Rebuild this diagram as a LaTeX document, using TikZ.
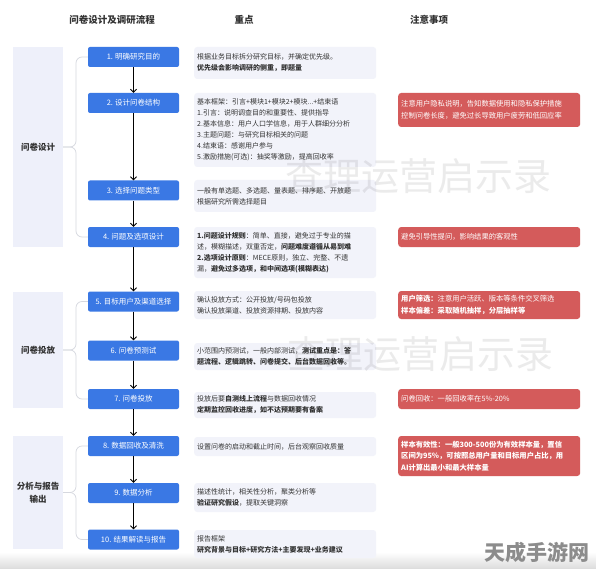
\documentclass[tikz,border=0pt]{standalone}
\usepackage{fontspec}
\setmainfont{Noto Sans CJK SC}
\usetikzlibrary{arrows.meta,calc}
\definecolor{stepblue}{HTML}{3A78E4}
\definecolor{notered}{HTML}{D45B5B}
\definecolor{midfill}{HTML}{F2F3FA}
\definecolor{phasefill}{HTML}{EEF0FA}
\definecolor{bracegray}{HTML}{D6D8DF}
\definecolor{txt}{HTML}{333333}
\tikzset{
  stepbox/.style={fill=stepblue,rounded corners=2pt,minimum width=91pt,minimum height=20pt,inner sep=0pt,text=white,font=\fontsize{7.5}{9}\selectfont},
  phasebox/.style={fill=phasefill,minimum width=50pt,inner sep=0pt,align=center,text=txt,font=\fontsize{8.5}{13}\selectfont\bfseries},
  midbox/.style={fill=midfill,rounded corners=3pt,anchor=west,text width=176pt,inner xsep=3pt,inner ysep=0pt,align=left,text=txt,font=\fontsize{7}{11}\selectfont},
  redbox/.style={fill=notered,rounded corners=3pt,anchor=west,text width=176pt,inner xsep=3pt,inner ysep=0pt,align=left,text=white,font=\fontsize{7.3}{11.5}\selectfont},
  header/.style={text=txt,font=\fontsize{9.5}{11}\selectfont\bfseries},
  flow/.style={draw=black,line width=0.8pt,-{Straight Barb[length=3pt,width=6pt]}},
  brace/.style={draw=bracegray,line width=0.7pt,rounded corners=6pt},
  wmark/.style={text=black,opacity=0.08,font=\fontsize{38}{40}\selectfont}
}
\begin{document}
\begin{tikzpicture}[x=1pt,y=-1pt]
\useasboundingbox (0,0) rectangle (596,569);
\fill[white] (0,0) rectangle (596,569);
\shade[top color=white,bottom color=black!14] (0,552) rectangle (596,569);

% headers
\node[header] (h1) at (112,20) {问卷设计及调研流程};
\node[header] (h2) at (244,20) {重点};
\node[header] (h3) at (429,20) {注意事项};

% phase boxes
\node[phasebox,minimum height=200pt] (p1) at (38,147) {问卷设计};
\node[phasebox,minimum height=116pt] (p2) at (38,350) {问卷投放};
\node[phasebox,minimum height=113pt] (p3) at (38,492.5) {分析与报告\\输出};

% steps
\node[stepbox] (s1) at (133.5,57) {1. 明确研究目的};
\node[stepbox] (s2) at (133.5,103) {2. 设计问卷结构};
\node[stepbox] (s3) at (133.5,190.5) {3. 选择问题类型};
\node[stepbox] (s4) at (133.5,237) {4. 问题及选项设计};
\node[stepbox] (s5) at (133.5,301.5) {5. 目标用户及渠道选择};
\node[stepbox] (s6) at (133.5,350.5) {6. 问卷预测试};
\node[stepbox] (s7) at (133.5,399) {7. 问卷投放};
\node[stepbox] (s8) at (133.5,446) {8. 数据回收及清洗};
\node[stepbox] (s9) at (133.5,493) {9. 数据分析};
\node[stepbox] (s10) at (133.5,539.5) {10. 结果解读与报告};

% arrows
\foreach \a/\b in {s1/s2,s2/s3,s3/s4,s4/s5,s5/s6,s6/s7,s7/s8,s8/s9,s9/s10}
  \draw[flow] (\a.south) -- (\b.north);

% braces
\coordinate (b1) at (76,147);
\coordinate (b2) at (76,350);
\coordinate (b3) at (76,492.5);
\draw[brace] (s1.west) -| (b1) -- (p1.east);
\draw[brace] (s4.west) -| (b1) -- (p1.east);
\draw[brace] (s5.west) -| (b2) -- (p2.east);
\draw[brace] (s7.west) -| (b2) -- (p2.east);
\draw[brace] (s8.west) -| (b3) -- (p3.east);
\draw[brace] (s10.west) -| (b3) -- (p3.east);

% key points
\node[midbox,minimum height=32pt] (m1) at (194,63) {根据业务目标拆分研究目标，并确定优先级。\\\textbf{优先级会影响调研的侧重，即题量}};
\node[midbox,minimum height=74pt] (m2) at (194,130) {基本框架：引言+模块1+模块2+模块...+结束语\\1.引言：说明调查目的和重要性、提供指导\\2.基本信息：用户人口学信息，用于人群细分分析\\3.主题问题：与研究目标相关的问题\\4.结束语：感谢用户参与\\5.激励措施(可选)：抽奖等激励，提高回收率};
\node[midbox,minimum height=32pt] (m3) at (194,196) {一般有单选题、多选题、量表题、排序题、开放题\\根据研究所需选择题目};
\node[midbox,minimum height=51pt] (m4) at (194,252.5) {\textbf{1.问题设计规则}：简单、直接，避免过于专业的描\\述，模糊描述，双重否定，\textbf{问题难度遵循从易到难}\\\textbf{2.选项设计原则}：MECE原则，独立、完整、不遗\\漏，\textbf{避免过多选项，和中间选项(模糊表达)}};
\node[midbox,minimum height=28pt] (m5) at (194,305) {确认投放方式：公开投放/号码包投放\\确认投放渠道、投放资源排期、投放内容};
\node[midbox,minimum height=27pt] (m6) at (194,356.5) {小范围内预测试，一般内部测试，\textbf{测试重点是：答}\\\textbf{题流程、逻辑跳转、问卷提交、后台数据回收等。}};
\node[midbox,minimum height=26pt] (m7) at (194,405) {投放后要\textbf{自测线上流程}与数据回收情况\\\textbf{定期监控回收进度，如不达预期要有备案}};
\node[midbox,minimum height=19pt] (m8) at (194,446.5) {设置问卷的启动和截止时间，后台观察回收质量};
\node[midbox,minimum height=29pt] (m9) at (194,497.5) {描述性统计，相关性分析，聚类分析等\\\textbf{验证研究假设}，提取关键洞察};
\node[midbox,minimum height=28pt] (m10) at (194,544) {报告框架\\\textbf{研究背景与目标+研究方法+主要发现+业务建议}};

% notes
\node[redbox,minimum height=34pt] (r1) at (398,110) {注意用户隐私说明，告知数据使用和隐私保护措施\\控制问卷长度，避免过长导致用户疲劳和低回应率};
\node[redbox,minimum height=20pt] (r2) at (398,237) {避免引导性提问，影响结果的客观性};
\node[redbox,minimum height=28pt] (r3) at (398,305) {\textbf{用户筛选：}注意用户活跃、版本等条件交叉筛选\\\textbf{样本偏差：采取随机抽样，分层抽样等}};
\node[redbox,minimum height=20pt] (r4) at (398,399) {问卷回收：一般回收率在5\%-20\%};
\node[redbox,minimum height=40pt] (r5) at (398,456) {\textbf{样本有效性：一般300-500份为有效样本量，置信}\\\textbf{区间为95\%，可按照总用户量和目标用户占比，用}\\\textbf{AI计算出最小和最大样本量}};

% watermarks
\node[wmark] (w1) at (418,176) {查理运营启示录};
\node[wmark] (w2) at (420,354) {查理运营启示录};
\node[text=black!45,font=\fontsize{21}{22}\selectfont\bfseries] (w3) at (537,552) {天成手游网};
\end{tikzpicture}
\end{document}
